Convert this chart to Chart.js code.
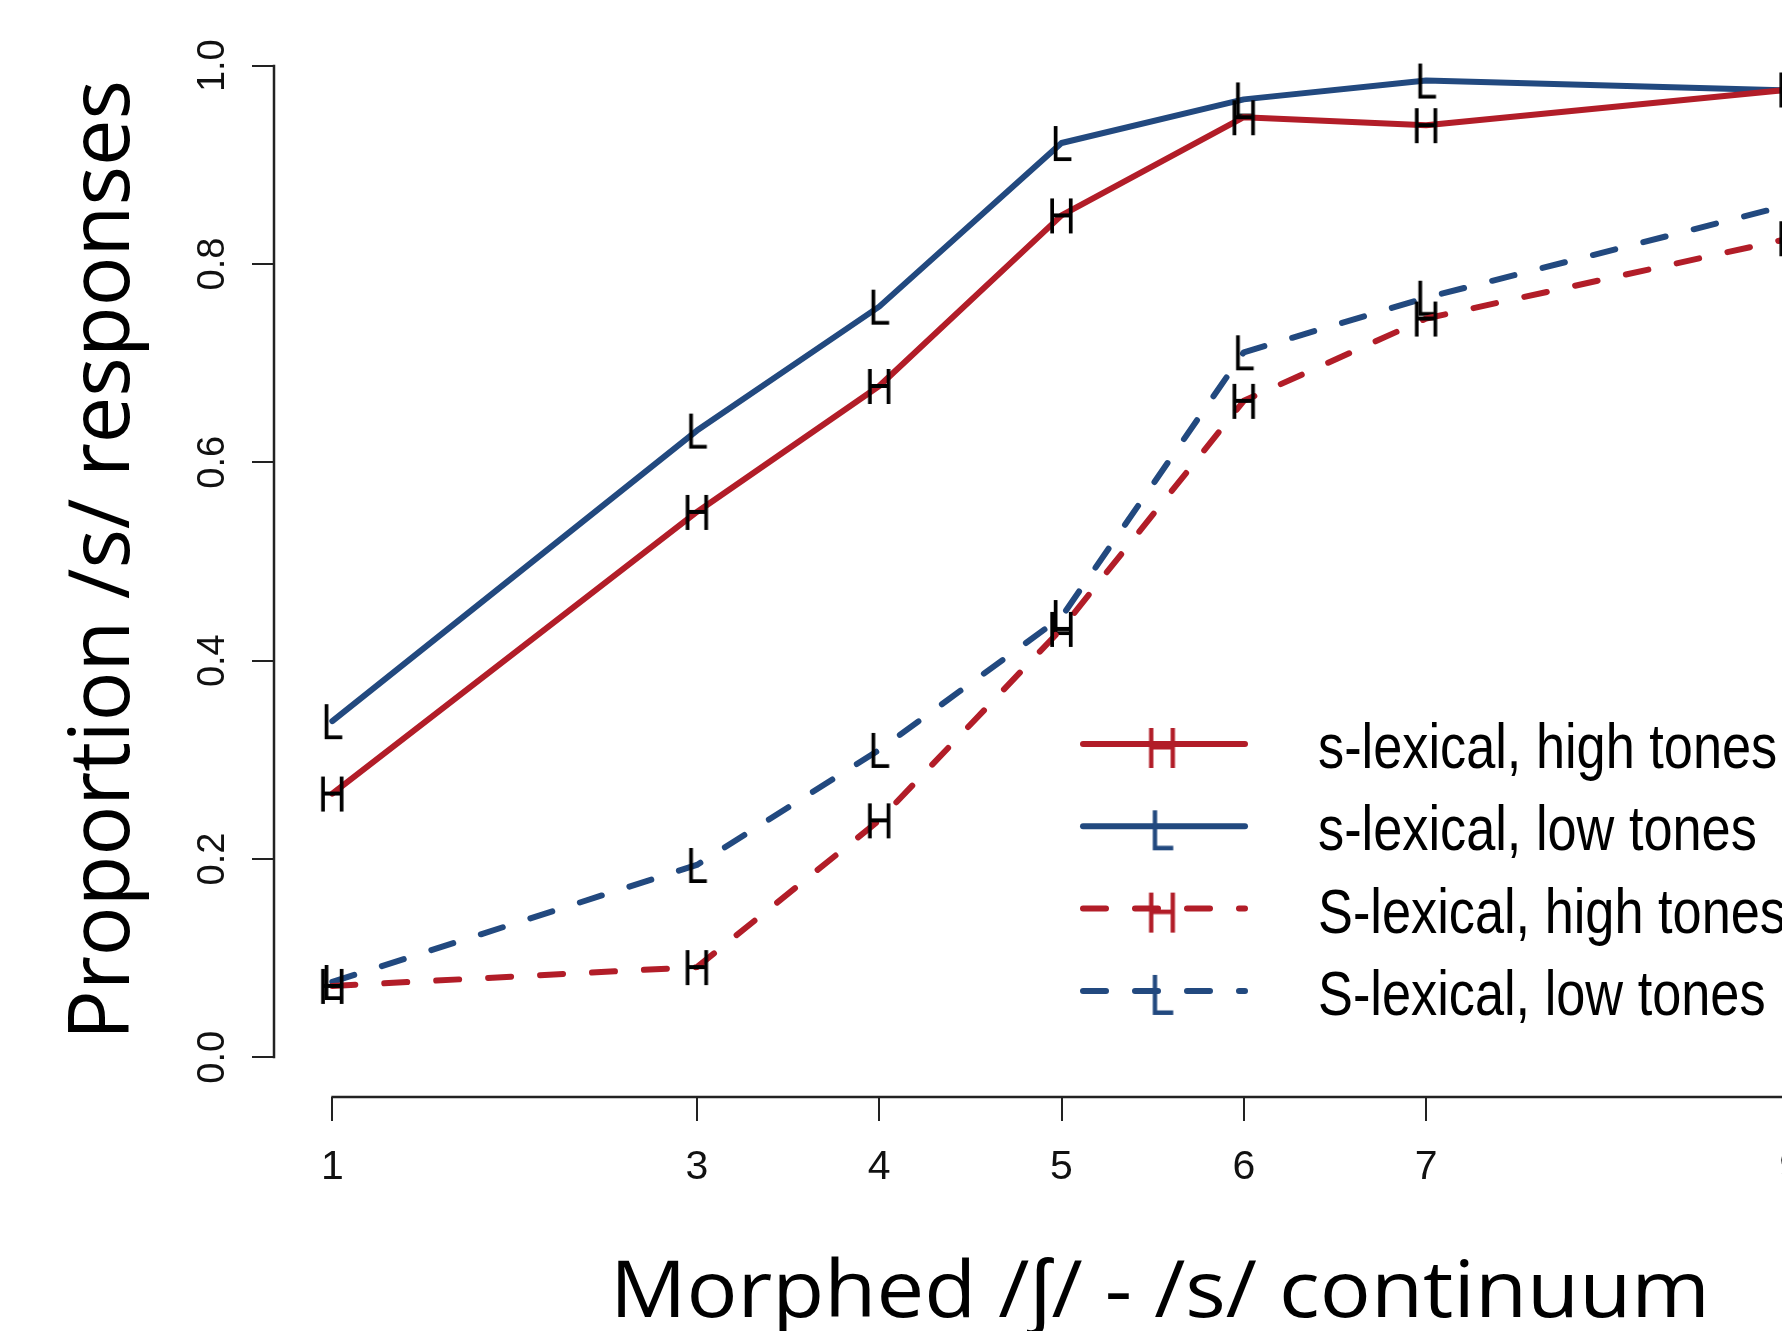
<!DOCTYPE html>
<html>
<head>
<meta charset="utf-8">
<title>Proportion /s/ responses</title>
<script src="https://cdn.jsdelivr.net/npm/chart.js@4.4.0/dist/chart.umd.min.js"></script>
<style>
  html, body { margin: 0; padding: 0; background: #fff; overflow: hidden; }
  #wrap { width: 1900px; height: 1331px; }
</style>
</head>
<body>
<div id="wrap"><canvas id="chart" width="1900" height="1331"></canvas></div>
<script>
// continuum steps and proportion of /s/ responses
const steps = [1, 3, 4, 5, 6, 7, 9];
const sLexHigh = [0.266, 0.550, 0.677, 0.849, 0.948, 0.940, 0.976];
const sLexLow = [0.339, 0.632, 0.757, 0.922, 0.966, 0.985, 0.975];
const shLexHigh = [0.072, 0.091, 0.239, 0.432, 0.662, 0.745, 0.826];
const shLexLow = [0.076, 0.194, 0.310, 0.444, 0.711, 0.766, 0.860];

const xTicks = [1, 3, 4, 5, 6, 7, 9];
const yTicks = [0, 0.2, 0.4, 0.6, 0.8, 1.0];
const seriesLabels = ['s-lexical, high tones', 's-lexical, low tones', 'S-lexical, high tones', 'S-lexical, low tones'];
const xTitle = 'Morphed /ʃ/ - /s/ continuum';
const yTitle = 'Proportion /s/ responses';

const red = '#b21d28';
const blue = '#22497f';
const dash = [23, 29];

// letter used as plotting symbol (like pch = "H" in R)
function glyph(letter, color, size) {
    const c = document.createElement('canvas');
    c.width = Math.round(size * 0.7);
    c.height = Math.round(size * 1.0);
    const g = c.getContext('2d');
    g.fillStyle = color;
    g.font = size + 'px "Liberation Sans", Arial, sans-serif';
    g.textAlign = 'center';
    g.textBaseline = 'alphabetic';
    g.translate(c.width / 2, c.height / 2 + size * 0.716 / 2);
    g.scale(0.8, 1);
    g.fillText(letter, 0, 0);
    return c;
}

function pts(values) {
    return steps.map((x, i) => ({ x: x, y: values[i] }));
}

function series(label, values, color, dashed, letter) {
    return {
        label: label,
        data: pts(values),
        borderColor: color,
        borderWidth: 6,
        borderDash: dashed ? dash : [],
        borderCapStyle: 'round',
        borderJoinStyle: 'round',
        tension: 0,
        pointStyle: glyph(letter, '#000', 50),
        pointRadius: 10,
        legendMark: glyph(letter, color, 58)
    };
}

// axis lines drawn R-style: only from first to last tick
const rAxes = {
    id: 'rAxes',
    afterDraw(chart) {
        const ctx = chart.ctx;
        const a = chart.chartArea;
        const xs = chart.scales.x, ys = chart.scales.y;
        ctx.save();
        ctx.strokeStyle = '#222';
        ctx.lineWidth = 2.5;
        ctx.beginPath();
        ctx.moveTo(a.left, ys.getPixelForValue(yTicks[0]) + 1);
        ctx.lineTo(a.left, ys.getPixelForValue(yTicks[yTicks.length - 1]) - 1);
        ctx.moveTo(xs.getPixelForValue(xTicks[0]) - 1, a.bottom);
        ctx.lineTo(xs.getPixelForValue(xTicks[xTicks.length - 1]) + 1, a.bottom);
        ctx.stroke();

        // axis titles
        ctx.fillStyle = '#000';
        ctx.textAlign = 'left';
        ctx.textBaseline = 'alphabetic';
        ctx.font = '78px "Open Sans", "Noto Sans", sans-serif';
        let w = ctx.measureText(xTitle).width;
        ctx.save();
        ctx.translate(610, 1317);
        ctx.scale(1100 / w, 1);
        ctx.fillText(xTitle, 0, 0);
        ctx.restore();

        ctx.font = '85px "Open Sans", "Noto Sans", sans-serif';
        w = ctx.measureText(yTitle).width;
        ctx.save();
        ctx.translate(129, 1040);
        ctx.rotate(-Math.PI / 2);
        ctx.scale(960 / w, 1);
        ctx.fillText(yTitle, 0, 0);
        ctx.restore();
        ctx.restore();
    }
};

// legend inside the plot, line sample + symbol
const rLegend = {
    id: 'rLegend',
    afterDraw(chart) {
        const ctx = chart.ctx;
        const x0 = 1083, x1 = 1245, textX = 1318, top = 744, gap = 82.3;
        chart.data.datasets.forEach((ds, i) => {
            const y = top + i * gap;
            ctx.save();
            ctx.strokeStyle = ds.borderColor;
            ctx.lineWidth = ds.borderWidth;
            ctx.lineCap = 'round';
            ctx.setLineDash(ds.borderDash);
            ctx.beginPath();
            ctx.moveTo(x0, y);
            ctx.lineTo(x1, y);
            ctx.stroke();
            ctx.setLineDash([]);
            const m = ds.legendMark;
            ctx.drawImage(m, (x0 + x1) / 2 - 2 - m.width / 2, y + 3 - m.height / 2);
            ctx.fillStyle = '#000';
            ctx.font = '63px "Liberation Sans", Arial, sans-serif';
            ctx.textBaseline = 'alphabetic';
            ctx.translate(textX, y + 24);
            ctx.scale(0.83, 1);
            ctx.fillText(ds.label, 0, 0);
            ctx.restore();
        });
    }
};

const ctx = document.getElementById('chart');
new Chart(ctx, {
    type: 'line',
    data: {
        datasets: [
            series(seriesLabels[0], sLexHigh, red, false, 'H'),
            series(seriesLabels[1], sLexLow, blue, false, 'L'),
            series(seriesLabels[2], shLexHigh, red, true, 'H'),
            series(seriesLabels[3], shLexLow, blue, true, 'L')
        ]
    },
    options: {
        responsive: false,
        animation: false,
        events: [],
        layout: { autoPadding: false, padding: { top: 26, left: 0, right: 51, bottom: 0 } },
        plugins: { legend: { display: false }, title: { display: false }, tooltip: { enabled: false } },
        scales: {
            x: {
                type: 'linear',
                min: 0.68,
                max: 9.32,
                afterBuildTicks: s => { s.ticks = xTicks.map(v => ({ value: v })); },
                afterFit: s => { s.height = 234; s.paddingLeft = 0; s.paddingRight = 0; },
                grid: { drawOnChartArea: false, drawTicks: true, tickLength: 24, color: '#222', lineWidth: 2 },
                border: { display: false },
                ticks: {
                    autoSkip: false,
                    maxRotation: 0,
                    padding: 22,
                    color: '#111',
                    font: { family: '"Liberation Sans Narrow", "Liberation Sans", Arial, sans-serif', size: 41 },
                    callback: v => String(v)
                }
            },
            y: {
                type: 'linear',
                min: -0.04,
                max: 1.04,
                afterBuildTicks: s => { s.ticks = yTicks.map(v => ({ value: v })); },
                afterFit: s => { s.width = 274; s.paddingTop = 0; s.paddingBottom = 0; },
                grid: { drawOnChartArea: false, drawTicks: true, tickLength: 22, color: '#222', lineWidth: 2 },
                border: { display: false },
                ticks: {
                    autoSkip: false,
                    minRotation: 90,
                    maxRotation: 90,
                    crossAlign: 'center',
                    padding: 12,
                    color: '#111',
                    font: { family: '"Liberation Sans", Arial, sans-serif', size: 38 },
                    callback: v => v.toFixed(1)
                }
            }
        }
    },
    plugins: [rAxes, rLegend]
});
</script>
</body>
</html>
